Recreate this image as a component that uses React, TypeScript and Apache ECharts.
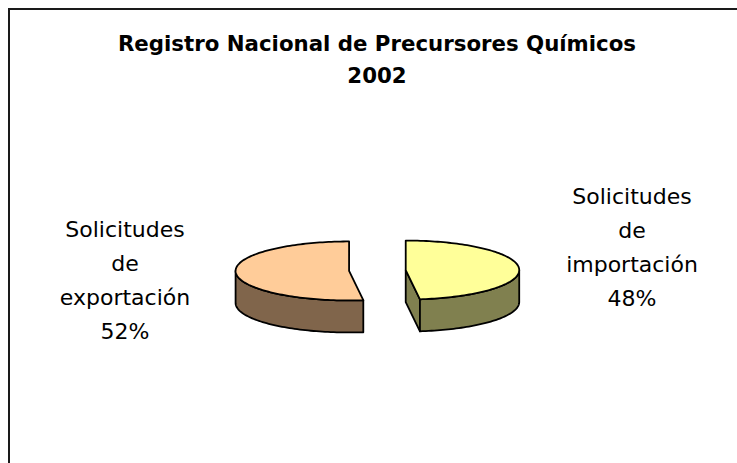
import React, { useEffect, useRef } from "react";
import * as echarts from "echarts";

// ---- data ----
const titleLines = ["Registro Nacional de Precursores Químicos", "2002"];
const categories = ["Solicitudes de importación", "Solicitudes de exportación"];
const values = [48, 52];

// ---- layout / style constants ----
const CX = 377.4;
const CY = 270.5;
const RX = 113.5;
const RY = 29.5;
const DEPTH = 32;
const EXPLODE = 0.25;
const topColors = ["#FFFF99", "#FFCC99"];
const sideColors = ["#80804F", "#80654B"];
const labelPos = [
  [632, 247.5],
  [125, 280],
];
const FONT = "'DejaVu Sans', Verdana, sans-serif";

export default function App() {
  const ref = useRef<HTMLDivElement>(null);

  useEffect(() => {
    if (!ref.current) return;
    const chart = echarts.init(ref.current, null, { renderer: "svg" });
    const total = values.reduce((a, b) => a + b, 0);

    const renderItem = (params: any, api: any) => {
      const i = params.dataIndex;
      const v = api.value(0);
      let before = 0;
      for (let k = 0; k < i; k++) before += values[k];
      const t0 = (before / total) * Math.PI * 2;
      const t1 = ((before + v) / total) * Math.PI * 2;
      const mid = (t0 + t1) / 2;
      const cx = CX + EXPLODE * RX * Math.sin(mid);
      const cy = CY - EXPLODE * RY * Math.cos(mid);
      const pt = (t: number, dz = 0) => [cx + RX * Math.sin(t), cy - RY * Math.cos(t) + dz];
      const arc = (a: number, b: number, dz = 0) => {
        const pts: number[][] = [];
        const n = Math.max(2, Math.ceil(Math.abs(b - a) / (Math.PI / 120)));
        for (let s = 0; s <= n; s++) pts.push(pt(a + ((b - a) * s) / n, dz));
        return pts;
      };
      const stroke = { stroke: "#000", lineWidth: 1.8, lineJoin: "round" };
      const children: any[] = [];

      // start cut face
      if (Math.sin(t0) < -1e-6) {
        const p = pt(t0);
        children.push({
          type: "polygon",
          shape: { points: [[cx, cy], p, [p[0], p[1] + DEPTH], [cx, cy + DEPTH]] },
          style: { fill: sideColors[i], ...stroke },
        });
      }
      // end cut face
      if (Math.sin(t1) > 1e-6) {
        const p = pt(t1);
        children.push({
          type: "polygon",
          shape: { points: [[cx, cy], p, [p[0], p[1] + DEPTH], [cx, cy + DEPTH]] },
          style: { fill: sideColors[i], ...stroke },
        });
      }
      // outer wall (front half only)
      const a = Math.max(t0, Math.PI / 2);
      const b = Math.min(t1, (Math.PI * 3) / 2);
      if (b > a) {
        const pts = arc(a, b).concat(arc(b, a, DEPTH));
        children.push({
          type: "polygon",
          shape: { points: pts },
          style: { fill: sideColors[i], ...stroke },
        });
      }
      // top face
      children.push({
        type: "polygon",
        shape: { points: [[cx, cy]].concat(arc(t0, t1)) },
        style: { fill: topColors[i], ...stroke },
      });
      // label
      const pct = Math.round((v / total) * 100);
      children.push({
        type: "text",
        x: labelPos[i][0],
        y: labelPos[i][1],
        style: {
          text: categories[i].split(" ").join("\n") + "\n" + pct + "%",
          fill: "#000",
          fontSize: 22,
          fontFamily: FONT,
          lineHeight: 34,
          align: "center",
          verticalAlign: "middle",
          textAlign: "center",
          textVerticalAlign: "middle",
        },
      });
      return { type: "group", children };
    };

    chart.setOption({
      animation: false,
      backgroundColor: "#ffffff",
      graphic: [
        {
          type: "rect",
          shape: { x: 9, y: 9, width: 800, height: 600 },
          style: { fill: "none", stroke: "#1a1a1a", lineWidth: 2 },
          silent: true,
        },
        {
          type: "text",
          x: 377,
          y: 59,
          style: {
            text: titleLines.join("\n"),
            fill: "#000",
            fontSize: 21.3,
            fontWeight: "bold",
            fontFamily: FONT,
            lineHeight: 32,
            textAlign: "center",
            textVerticalAlign: "middle",
          },
        },
      ],
      series: [
        {
          type: "custom",
          coordinateSystem: "none",
          renderItem,
          data: values.map((v, i) => ({ name: categories[i], value: v })),
        },
      ],
    });

    return () => chart.dispose();
  }, []);

  return (
    <div
      ref={ref}
      style={{ position: "absolute", left: 0, top: 0, width: 737, height: 463, background: "#fff" }}
    />
  );
}
